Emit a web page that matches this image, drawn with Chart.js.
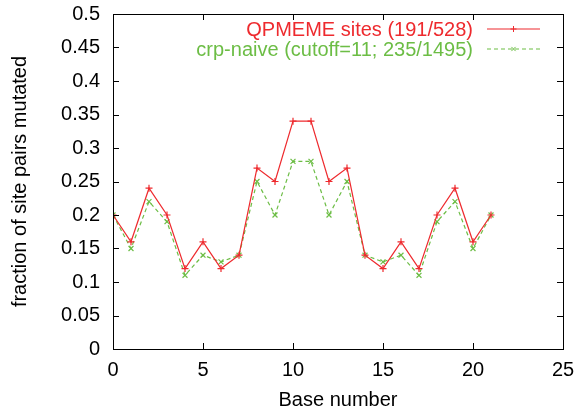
<!DOCTYPE html>
<html>
<head>
<meta charset="utf-8">
<script src="https://cdn.jsdelivr.net/npm/chart.js@4.4.1/dist/chart.umd.min.js"></script>
<style>
  html, body { margin: 0; padding: 0; background: #fff; }
</style>
</head>
<body>
<canvas id="chart" width="578" height="408"></canvas>
<script>
const baseNumbers = [0, 1, 2, 3, 4, 5, 6, 7, 8, 9, 10, 11, 12, 13, 14, 15, 16, 17, 18, 19, 20, 21];
const qpmemeFrac = [0.20, 0.16, 0.24, 0.20, 0.12, 0.16, 0.12, 0.14, 0.27, 0.25, 0.34, 0.34, 0.25, 0.27, 0.14, 0.12, 0.16, 0.12, 0.20, 0.24, 0.16, 0.20];
const crpFrac = [0.20, 0.15, 0.22, 0.19, 0.11, 0.14, 0.13, 0.14, 0.25, 0.20, 0.28, 0.28, 0.20, 0.25, 0.14, 0.13, 0.14, 0.11, 0.19, 0.22, 0.15, 0.20];
const seriesNames = ['QPMEME sites (191/528)', 'crp-naive (cutoff=11; 235/1495)'];

const RED = '#ee2a2e';
const GREEN = '#6cbd45';
const FONT = 'Liberation Sans, Arial, Helvetica, sans-serif';

// gnuplot style frame with inward ticks on all four sides
const framePlugin = {
  id: 'frame',
  afterDraw(chart) {
    const { ctx, chartArea: a, scales } = chart;
    const len = 6;
    ctx.save();
    ctx.strokeStyle = '#000';
    ctx.lineWidth = 1;
    ctx.strokeRect(a.left + 0.5, a.top + 0.5, a.right - a.left, a.bottom - a.top);
    ctx.beginPath();
    scales.x.ticks.forEach(t => {
      const x = Math.round(scales.x.getPixelForValue(t.value)) + 0.5;
      ctx.moveTo(x, a.bottom); ctx.lineTo(x, a.bottom - len);
      ctx.moveTo(x, a.top); ctx.lineTo(x, a.top + len);
    });
    scales.y.ticks.forEach(t => {
      const y = Math.round(scales.y.getPixelForValue(t.value)) + 0.5;
      ctx.moveTo(a.left, y); ctx.lineTo(a.left + len, y);
      ctx.moveTo(a.right, y); ctx.lineTo(a.right - len, y);
    });
    ctx.stroke();
    ctx.restore();
  },
};

// legend: right aligned text, then a line sample with the point marker
const keyPlugin = {
  id: 'key',
  afterDraw(chart) {
    const ctx = chart.ctx;
    const textRight = 473;
    const sx0 = 487, sx1 = 540;
    const rows = [29, 49];
    chart.data.datasets.forEach((ds, i) => {
      const y = rows[i];
      ctx.save();
      ctx.font = '20px ' + FONT;
      ctx.textAlign = 'right';
      ctx.textBaseline = 'middle';
      ctx.fillStyle = ds.borderColor;
      ctx.fillText(ds.label, textRight, y + 1);
      ctx.restore();

      ctx.save();
      ctx.strokeStyle = ds.borderColor;
      ctx.lineWidth = 1.2;
      ctx.setLineDash(ds.borderDash ? ds.borderDash : []);
      ctx.beginPath();
      ctx.moveTo(sx0, y);
      ctx.lineTo(sx1, y);
      ctx.stroke();
      ctx.restore();

      ctx.save();
      ctx.strokeStyle = ds.borderColor;
      ctx.fillStyle = ds.borderColor;
      Chart.helpers.drawPoint(ctx, {
        pointStyle: ds.pointStyle, radius: 3, borderWidth: 1.2, rotation: 0,
      }, (sx0 + sx1) / 2, y);
      ctx.restore();
    });
  },
};

new Chart(document.getElementById('chart'), {
  type: 'line',
  data: {
    datasets: [
      {
        label: seriesNames[0],
        data: baseNumbers.map((x, i) => ({ x, y: qpmemeFrac[i] })),
        borderColor: RED,
        backgroundColor: RED,
        borderWidth: 1.2,
        pointStyle: 'cross',
        pointRadius: 3.5,
        pointBorderWidth: 1.2,
        tension: 0,
      },
      {
        label: seriesNames[1],
        data: baseNumbers.map((x, i) => ({ x, y: crpFrac[i] })),
        borderColor: GREEN,
        backgroundColor: GREEN,
        borderWidth: 1.2,
        borderDash: [4, 3],
        pointStyle: 'crossRot',
        pointRadius: 3.5,
        pointBorderWidth: 1.2,
        tension: 0,
      },
    ],
  },
  options: {
    responsive: false,
    animation: false,
    layout: { padding: { top: 14, right: 15, left: 0, bottom: 0 } },
    plugins: { legend: { display: false }, tooltip: { enabled: false } },
    scales: {
      x: {
        type: 'linear',
        min: 0, max: 25,
        afterFit: s => { s.height = 59; s.paddingLeft = 0; s.paddingRight = 0; },
        ticks: { stepSize: 5, color: '#000', padding: 9, font: { family: FONT, size: 20 }, maxRotation: 0 },
        grid: { display: false, drawTicks: false },
        border: { display: false },
        title: { display: true, text: 'Base number', color: '#000', font: { family: FONT, size: 20, lineHeight: 1 }, padding: { top: 0, bottom: -2 } },
      },
      y: {
        min: 0, max: 0.5,
        afterFit: s => { s.width = 113; s.paddingTop = 0; s.paddingBottom = 0; },
        ticks: { stepSize: 0.05, color: '#000', padding: 13, font: { family: FONT, size: 20 }, callback: v => +v.toFixed(2) },
        grid: { display: false, drawTicks: false },
        border: { display: false },
        title: { display: true, text: 'fraction of site pairs mutated', color: '#000', font: { family: FONT, size: 20 }, padding: { top: 8, bottom: 4 } },
      },
    },
  },
  plugins: [framePlugin, keyPlugin],
});
</script>
</body>
</html>
